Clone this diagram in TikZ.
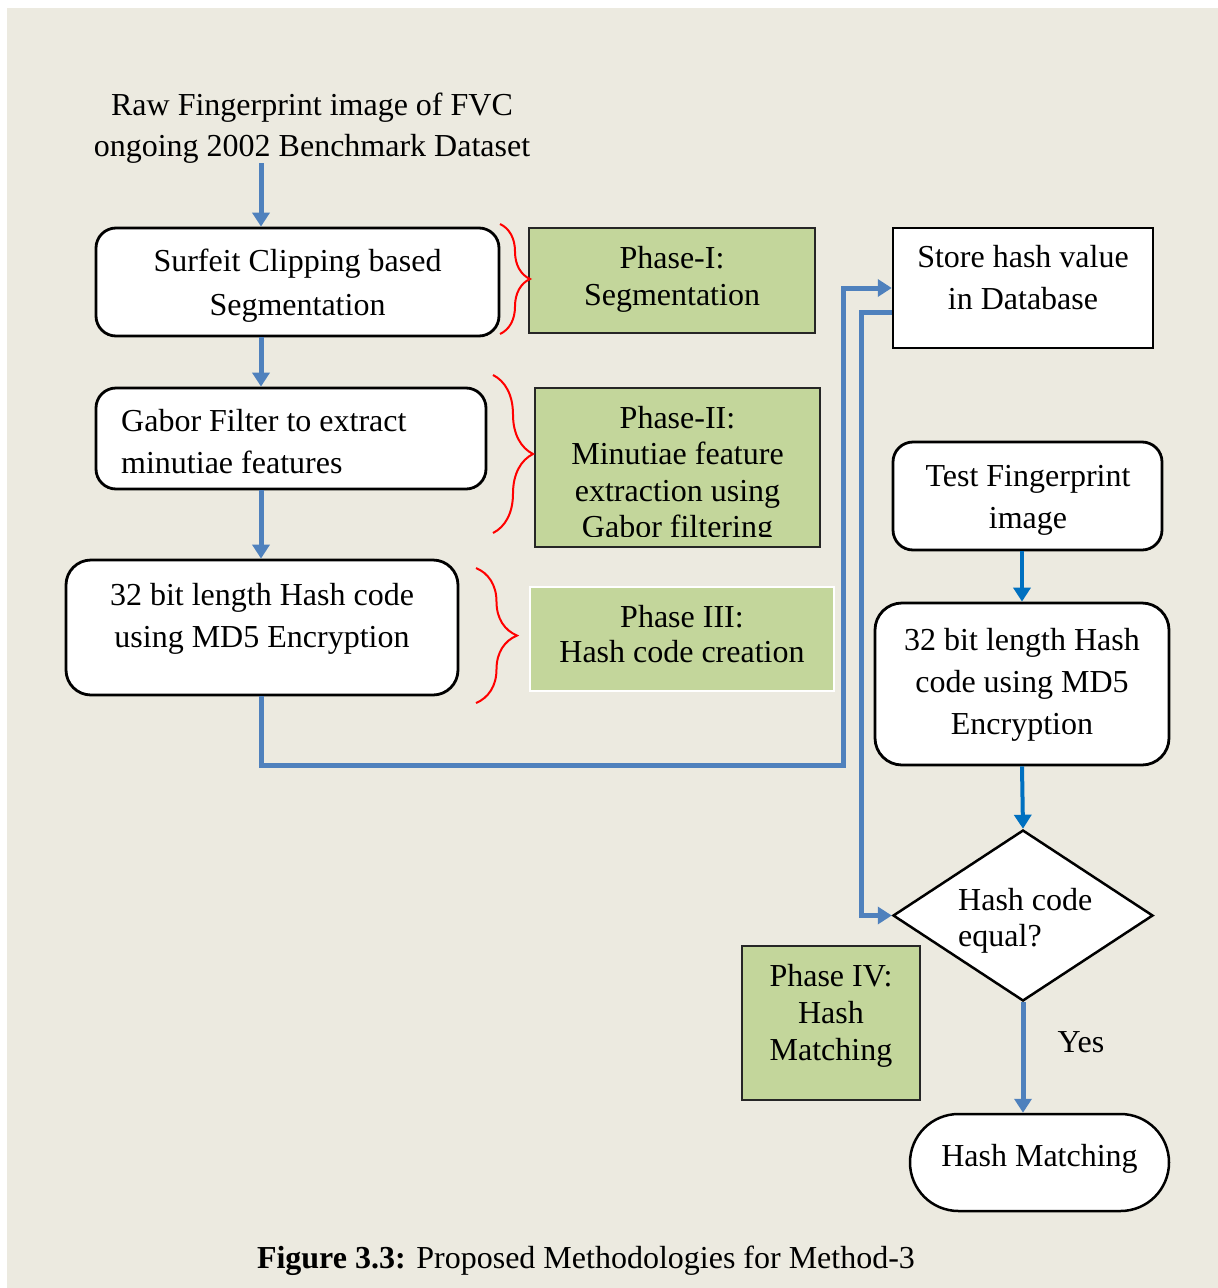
\documentclass[tikz,border=0pt]{standalone}
\usepackage{fontspec}
\setmainfont{Liberation Serif}
\usetikzlibrary{arrows.meta,shapes.geometric,shapes.misc,decorations.pathreplacing}

\definecolor{paper}{HTML}{ECEAE0}
\definecolor{phasegreen}{HTML}{C3D69B}
\definecolor{flowblue}{HTML}{4F81BD}
\definecolor{darkblue}{HTML}{0070C0}

\begin{document}
\begin{tikzpicture}[x=1pt,y=-1pt,
  every node/.style={font=\fontsize{32}{42}\selectfont},
  procbox/.style={draw=black, line width=2.8pt, fill=white, rounded corners=20pt, inner sep=0pt},
  sqbox/.style={draw=black, line width=2.5pt, fill=white, inner sep=0pt},
  phasebox/.style={draw=black!85, line width=2pt, fill=phasegreen, inner sep=0pt},
  % text nodes are placed by the baseline of their last line
  txt/.style={inner sep=0pt, align=center, anchor=base},
  phasetxt/.style={txt, font=\fontsize{32}{37}\selectfont},
  wire/.style={draw=flowblue, line width=5pt},
  flow/.style={wire, -{Triangle[width=17pt,length=14pt]}},
  darkflow/.style={flow, draw=darkblue, line width=4pt},
  bracket/.style={draw=red, line width=2pt, decorate, decoration={brace, amplitude=#1}}
]
% page and backdrop
\useasboundingbox (0,0) rectangle (1218,1288);
\fill[white] (0,0) rectangle (1218,1288);
\fill[paper] (7,8) rectangle (1218,1288);

\coordinate (spine) at (261,0);

% input description
\node[txt, font=\fontsize{32}{41}\selectfont] (title) at (312,156)
  {Raw Fingerprint image of FVC\\ongoing 2002 Benchmark Dataset};

% enrolment chain
\node[procbox, minimum width=403pt, minimum height=108pt] (seg) at (297.5,282) {};
\node[txt, font=\fontsize{32}{44}\selectfont] (segt) at (297.5,315) {Surfeit Clipping based\\Segmentation};

\node[procbox, minimum width=390pt, minimum height=101pt] (gab) at (291,438.5) {};
\node[txt, align=left, anchor=base west] (gabt) at (121,473) {Gabor Filter to extract\\minutiae features};

\node[procbox, rounded corners=25pt, minimum width=392pt, minimum height=135pt] (hc) at (262,627.5) {};
\node[txt] (hct) at (262,647) {32 bit length Hash code\\using MD5 Encryption};

% phase labels
\node[phasebox, minimum width=286pt, minimum height=105pt] (p1) at (672,280.5) {};
\node[phasetxt] (p1t) at (672,305) {Phase-I:\\Segmentation};

\node[phasebox, minimum width=285pt, minimum height=159pt] (p2) at (677.5,467.5) {};
\begin{scope}
  \clip (535,388) rectangle (820,536.5);
  \node[phasetxt, font=\fontsize{32}{36.5}\selectfont] (p2t) at (677.5,537.5)
    {Phase-II:\\Minutiae feature\\extraction using\\Gabor filtering};
\end{scope}

\node[phasebox, draw=white, minimum width=304pt, minimum height=104pt] (p3) at (682,639) {};
\node[txt, font=\fontsize{32}{35}\selectfont] (p3t) at (682,662) {Phase III:\\Hash code creation};

\node[phasebox, minimum width=178pt, minimum height=154pt] (p4) at (831,1023) {};
\node[phasetxt] (p4t) at (831,1060) {Phase IV:\\Hash\\Matching};

% braces tying steps to phases
\draw[bracket=30pt] (500,224) -- (500,334);
\draw[bracket=40pt] (493,375) -- (493,533);
\draw[bracket=41pt] (476,568) -- (476,703);

% storage and verification chain
\node[sqbox, minimum width=260pt, minimum height=120pt] (store) at (1023,288) {};
\node[txt] (storet) at (1023,309) {Store hash value\\in Database};

\node[procbox, minimum width=269pt, minimum height=108pt] (test) at (1027.5,496) {};
\node[txt] (testt) at (1028,528) {Test Fingerprint\\image};

\node[procbox, rounded corners=27pt, minimum width=294pt, minimum height=162pt] (hc2) at (1022,684) {};
\node[txt] (hc2t) at (1022,734) {32 bit length Hash\\code using MD5\\Encryption};

\node[diamond, draw=black, line width=2.5pt, fill=white, inner sep=0pt, aspect=1.52,
      minimum width=260pt, minimum height=171pt] (dia) at (1023,915.5) {};
\node[txt, align=left, anchor=base west, font=\fontsize{32}{36}\selectfont] (diat) at (958,946) {Hash code\\equal?};

\node[rounded rectangle, draw=black, line width=2.5pt, fill=white, inner sep=0pt,
      minimum width=259pt, minimum height=97pt] (hm) at (1039.5,1162.5) {};
\node[txt] (hmt) at (1039.5,1166) {Hash Matching};

\node[txt] (yes) at (1081,1052) {Yes};

% caption
\node[txt] (cap) at (586,1268) {\textbf{Figure 3.3:} Proposed Methodologies for Method-3};

% connectors
\coordinate (busA) at (843,765);
\coordinate (busB) at (861,915.5);
\draw[flow] (title.south -| spine) -- (seg.north -| spine);
\draw[flow] (seg.south -| spine) -- (gab.north -| spine);
\draw[flow] (gab.south -| spine) -- (hc.north -| spine);
\draw[flow] (hc.south -| spine) |- (busA) |- (store.west);
\draw[flow] ([yshift=-24pt]store.west) -| (busB) -- (dia.west);
\draw[darkflow] (hc2.north |- test.south) -- (hc2.north);
\draw[darkflow] (hc2.south) -- (dia.north);
\draw[flow] (dia.south) -- (hm.north -| dia.south);
\end{tikzpicture}
\end{document}
